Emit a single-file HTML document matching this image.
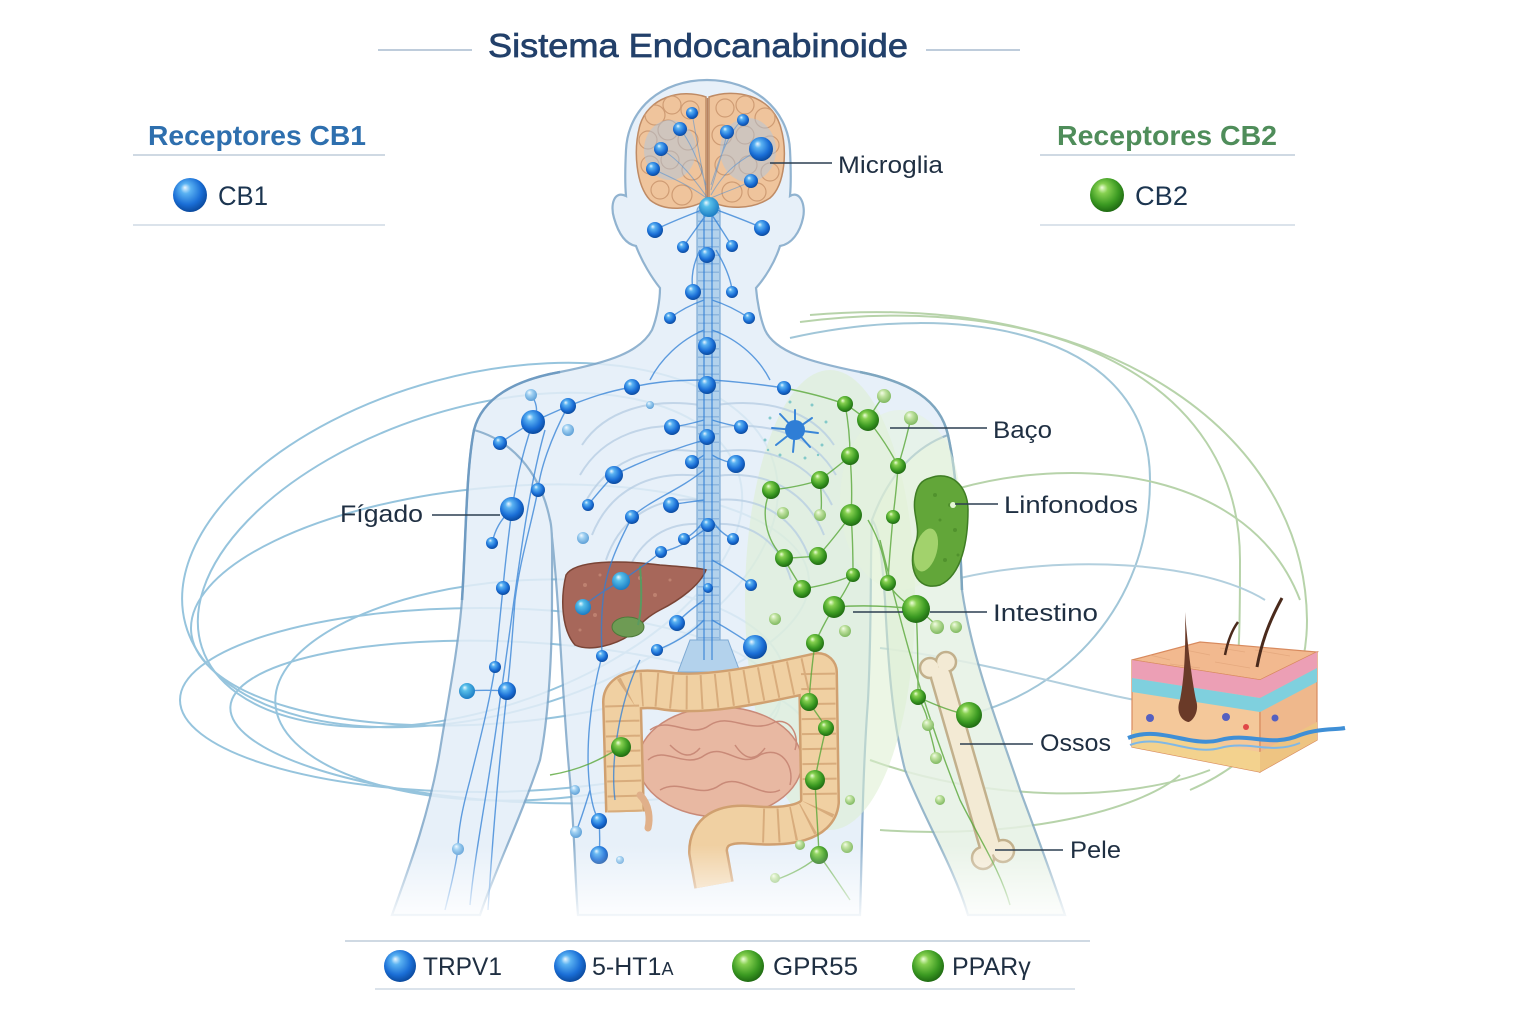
<!DOCTYPE html>
<html><head><meta charset="utf-8"><style>
html,body{margin:0;padding:0;background:#fff;}
svg{display:block;}
text{font-family:"Liberation Sans",sans-serif;}
</style></head><body>
<svg width="1536" height="1024" viewBox="0 0 1536 1024" xmlns="http://www.w3.org/2000/svg">
<defs>
<radialGradient id="gb" cx="0.45" cy="0.4" r="0.6" fx="0.35" fy="0.28">
<stop offset="0" stop-color="#eaf7ff"/><stop offset="0.25" stop-color="#5ab2f2"/><stop offset="0.7" stop-color="#1a6ed6"/><stop offset="1" stop-color="#0b4a9e"/></radialGradient>
<radialGradient id="gbl" cx="0.45" cy="0.4" r="0.6" fx="0.35" fy="0.28">
<stop offset="0" stop-color="#f2faff"/><stop offset="0.4" stop-color="#9fd0f2"/><stop offset="1" stop-color="#5d9fd6"/></radialGradient>
<radialGradient id="gc" cx="0.45" cy="0.4" r="0.6" fx="0.35" fy="0.28">
<stop offset="0" stop-color="#eaf9ff"/><stop offset="0.3" stop-color="#58c0ea"/><stop offset="1" stop-color="#1a7cc4"/></radialGradient>
<radialGradient id="gg" cx="0.45" cy="0.4" r="0.6" fx="0.35" fy="0.28">
<stop offset="0" stop-color="#eefed8"/><stop offset="0.25" stop-color="#86d050"/><stop offset="0.7" stop-color="#3b9a22"/><stop offset="1" stop-color="#1f6a12"/></radialGradient>
<radialGradient id="ggl" cx="0.45" cy="0.4" r="0.6" fx="0.35" fy="0.28">
<stop offset="0" stop-color="#f4fce8"/><stop offset="0.4" stop-color="#bfe29f"/><stop offset="1" stop-color="#7fb860"/></radialGradient>
<linearGradient id="fade" x1="0" y1="0" x2="0" y2="1">
<stop offset="0" stop-color="#fff" stop-opacity="0"/><stop offset="1" stop-color="#fff" stop-opacity="1"/></linearGradient>
<clipPath id="brainclip">
<path d="M706,97 C680,88 648,98 640,125 C633,150 636,185 650,200 C665,212 690,210 706,200 Z M709,97 C735,88 770,95 780,125 C788,150 785,185 770,198 C752,210 725,210 709,200 Z"/>
</clipPath>
</defs>

<rect width="1536" height="1024" fill="#fff"/>

<!-- orbit curves left -->
<g fill="none" stroke="#7db6d5" stroke-width="2" opacity="0.8">
<ellipse cx="480" cy="545" rx="305" ry="170" transform="rotate(-15 480 545)"/>
<ellipse cx="470" cy="560" rx="282" ry="150" transform="rotate(-18 470 560)"/>
<ellipse cx="500" cy="605" rx="310" ry="118" transform="rotate(-5 500 605)"/>
<ellipse cx="480" cy="700" rx="300" ry="92"/>
<ellipse cx="520" cy="722" rx="290" ry="80" transform="rotate(3 520 722)"/>
<ellipse cx="530" cy="690" rx="255" ry="110" transform="rotate(-3 530 690)"/>
</g>
<!-- orbit curves right -->
<g fill="none" stroke-width="2" opacity="0.8">
<path d="M790,338 C960,300 1150,330 1150,480 C1150,610 1060,690 975,713" stroke="#8ab9cf"/>
<path d="M800,322 C1050,290 1240,380 1240,560 C1240,620 1240,680 1230,700" stroke="#a6c996"/>
<path d="M810,315 C1100,290 1305,430 1307,620 C1307,700 1260,760 1190,790" stroke="#a6c996"/>
<path d="M960,488 C1080,455 1250,470 1300,600" stroke="#a6c996"/>
<path d="M960,578 C1060,555 1200,560 1265,600" stroke="#9fc4d6"/>
<path d="M870,760 C980,800 1120,805 1210,770" stroke="#a6c996"/>
<path d="M880,830 C1020,840 1140,810 1180,775" stroke="#a6c996"/>
<path d="M880,648 C980,660 1080,690 1135,700" stroke="#9fc4d6"/>
</g>

<!-- body -->
<g opacity="0.85">
<path d="M707,80 C662,80 628,108 626,150 C625,170 625,185 626,196 C614,190 610,205 614,218 C618,232 625,244 636,246 C642,262 652,278 660,288 C660,300 657,318 652,330 C640,352 610,362 560,372 C515,380 482,398 474,430 L550,520 C560,600 562,700 570,780 C575,840 575,880 578,915 L860,915 C862,860 862,780 868,700 C872,620 870,560 872,520 L948,435 C940,400 910,382 860,372 C810,362 775,352 765,330 C760,318 757,300 756,288 C765,278 775,262 780,246 C792,244 800,232 803,218 C806,205 800,190 790,196 C791,185 791,170 790,150 C788,108 752,80 707,80 Z" fill="#e3eef8" stroke="#7ea6c8" stroke-width="2.2"/>
<path d="M474,430 C466,470 466,540 462,600 C458,650 448,700 440,750 C430,810 412,860 392,915 L480,915 C495,870 520,820 540,760 C548,720 552,660 552,600 C552,560 553,530 550,520 C540,470 510,440 474,430 Z" fill="#e3eef8" stroke="#7ea6c8" stroke-width="2.2"/>
<path d="M948,435 C958,480 960,540 962,590 C972,660 1000,730 1020,790 C1035,830 1050,870 1065,915 L968,915 C955,870 925,820 905,770 C892,720 888,660 885,600 C882,560 880,530 872,520 C890,470 920,445 948,435 Z" fill="#e6f1e4" stroke="#86abc2" stroke-width="2.2"/>
</g>
<path d="M560,372 C515,380 482,398 474,430 C466,470 466,540 462,600" fill="none" stroke="#6f9bc2" stroke-width="2.5"/>
<path d="M860,372 C910,382 940,400 948,435 C958,480 960,540 962,590" fill="none" stroke="#7ea6bf" stroke-width="2.5"/>
<ellipse cx="830" cy="600" rx="85" ry="230" fill="#dcefd0" opacity="0.55"/>
<ellipse cx="900" cy="500" rx="60" ry="90" fill="#e6f3dc" opacity="0.5"/>

<!-- ribs -->
<g fill="none" stroke="#b6cde3" stroke-width="2" opacity="0.75">
<path d="M700,405 C650,398 605,410 582,445"/><path d="M700,428 C648,420 603,435 580,475"/>
<path d="M700,452 C648,444 605,462 584,505"/><path d="M700,476 C650,470 610,490 592,535"/>
<path d="M700,500 C655,496 620,518 606,560"/><path d="M700,524 C662,522 635,545 625,580"/>
<path d="M716,405 C766,398 811,410 834,445"/><path d="M716,428 C768,420 813,435 836,475"/>
<path d="M716,452 C768,444 811,462 832,505"/><path d="M716,476 C766,470 806,490 824,535"/>
<path d="M716,500 C761,496 796,518 810,560"/><path d="M716,524 C754,522 781,545 791,580"/>
</g>

<!-- spine -->
<rect x="697" y="205" width="23" height="450" rx="6" fill="#b3d2ec" stroke="#7eaad4" stroke-width="1.2"/>
<line x1="708.5" y1="212" x2="708.5" y2="650" stroke="#8db6de" stroke-width="21" stroke-dasharray="1.5 7"/>
<path d="M690,640 L728,640 L740,672 L678,672 Z" fill="#b3d2ec" stroke="#7eaad4"/>

<!-- brain -->
<path d="M706,97 C680,88 648,98 640,125 C633,150 636,185 650,200 C665,212 690,210 706,200 Z M709,97 C735,88 770,95 780,125 C788,150 785,185 770,198 C752,210 725,210 709,200 Z" fill="#efc49c" stroke="#bf8b65" stroke-width="1.5"/>
<g clip-path="url(#brainclip)" fill="none" stroke="#cf9c74" stroke-width="1.2">
<circle cx="655" cy="115" r="10"/><circle cx="672" cy="105" r="9"/><circle cx="690" cy="110" r="9"/><circle cx="648" cy="140" r="9"/>
<circle cx="668" cy="130" r="10"/><circle cx="688" cy="140" r="10"/><circle cx="650" cy="165" r="9"/><circle cx="670" cy="160" r="9"/>
<circle cx="692" cy="170" r="10"/><circle cx="660" cy="190" r="9"/><circle cx="682" cy="195" r="10"/>
<circle cx="725" cy="108" r="9"/><circle cx="745" cy="105" r="9"/><circle cx="765" cy="118" r="10"/><circle cx="722" cy="135" r="10"/>
<circle cx="745" cy="135" r="9"/><circle cx="770" cy="145" r="9"/><circle cx="725" cy="165" r="10"/><circle cx="748" cy="165" r="9"/>
<circle cx="770" cy="172" r="9"/><circle cx="732" cy="192" r="10"/><circle cx="757" cy="192" r="9"/>
</g>
<g clip-path="url(#brainclip)" fill="#a8c8e6" opacity="0.45">
<ellipse cx="670" cy="150" rx="26" ry="30"/><ellipse cx="748" cy="150" rx="28" ry="32"/>
</g>
<path d="M707.5,98 L707.5,200" stroke="#b88260" stroke-width="1.5"/>

<!-- liver -->
<path d="M566,575 C575,560 620,560 660,565 C685,567 700,568 706,570 C700,585 680,600 660,610 C645,618 640,625 630,635 C615,645 590,652 575,645 C562,630 560,600 566,575 Z" fill="#a7675a" stroke="#7a4436" stroke-width="1.5"/>
<g fill="#c48876" opacity="0.8"><circle cx="585" cy="585" r="2"/><circle cx="600" cy="575" r="1.5"/><circle cx="640" cy="578" r="2"/><circle cx="670" cy="580" r="1.5"/><circle cx="595" cy="615" r="2"/><circle cx="580" cy="630" r="1.5"/><circle cx="655" cy="595" r="2"/></g>
<ellipse cx="628" cy="627" rx="16" ry="10" fill="#6e9b54" stroke="#4d7a3a"/>
<path d="M640,566 C642,590 642,610 638,625" stroke="#5a9a60" stroke-width="2" fill="none"/>

<!-- intestines -->
<ellipse cx="720" cy="762" rx="82" ry="55" fill="#e8b8a2" stroke="#c98a78" stroke-width="1.5"/>
<g fill="none" stroke="#c98a78" stroke-width="1.5">
<path d="M650,730 C670,715 690,740 710,725 C730,712 750,735 775,722 C790,718 800,735 795,750"/>
<path d="M648,760 C665,745 685,770 705,755 C725,742 740,770 760,755 C780,745 795,765 790,785"/>
<path d="M660,790 C680,778 700,800 720,785 C740,772 760,800 780,790"/>
<path d="M670,745 C680,755 690,760 700,748"/><path d="M735,745 C745,760 755,762 765,748"/>
</g>
<path d="M625,812 L622,702 C622,690 640,688 660,690 C700,698 760,685 818,672 L820,802 C818,822 790,828 752,825 C722,822 708,832 708,852 L714,885" fill="none" stroke="#d0a070" stroke-width="40" stroke-linejoin="round"/>
<path d="M625,812 L622,702 C622,690 640,688 660,690 C700,698 760,685 818,672 L820,802 C818,822 790,828 752,825 C722,822 708,832 708,852 L714,885" fill="none" stroke="#f0d0a2" stroke-width="35" stroke-linejoin="round"/>
<path d="M625,812 L622,702 C622,690 640,688 660,690 C700,698 760,685 818,672 L820,802 C818,822 790,828 752,825" fill="none" stroke="#d8ac7c" stroke-width="34" stroke-dasharray="2 13"/>
<path d="M640,795 C650,805 650,820 648,828" stroke="#e0b08a" stroke-width="7" fill="none" stroke-linecap="round"/>

<!-- lymph node -->
<path d="M930,478 C950,470 968,485 968,510 C968,540 962,575 940,585 C915,592 908,565 915,545 C922,528 912,515 915,498 C917,485 922,480 930,478 Z" fill="#62a639" stroke="#3f7d24" stroke-width="1.5"/>
<g fill="#4a8a28" opacity="0.7"><circle cx="935" cy="495" r="2"/><circle cx="950" cy="505" r="2"/><circle cx="955" cy="530" r="2"/><circle cx="945" cy="560" r="2"/><circle cx="958" cy="555" r="1.5"/><circle cx="940" cy="520" r="1.5"/></g>
<ellipse cx="926" cy="550" rx="11" ry="22" transform="rotate(15 926 550)" fill="#a2d26c"/>
<circle cx="953" cy="505" r="3" fill="#e6f6d6"/>

<!-- bone -->
<g stroke="#c2b08c" stroke-width="2.5">
<line x1="941" y1="676" x2="990" y2="846" stroke-width="23" stroke-linecap="round"/>
<circle cx="930" cy="668" r="10" fill="#f3ead4"/><circle cx="946" cy="662" r="10" fill="#f3ead4"/>
<circle cx="983" cy="858" r="11" fill="#f3ead4"/><circle cx="1003" cy="851" r="11" fill="#f3ead4"/>
</g>
<line x1="941" y1="676" x2="990" y2="846" stroke="#f3ead4" stroke-width="18" stroke-linecap="round"/>
<circle cx="930" cy="668" r="8.5" fill="#f3ead4"/><circle cx="946" cy="662" r="8.5" fill="#f3ead4"/>
<circle cx="983" cy="858" r="9.5" fill="#f3ead4"/><circle cx="1003" cy="851" r="9.5" fill="#f3ead4"/>

<!-- blue nerves -->
<g fill="none" stroke="#2f7fd6" stroke-width="1.4" opacity="0.75">
<path d="M704,210 L704,660 M712,210 L712,660"/>
<path d="M709,207 C690,215 670,222 655,230 M709,207 C730,215 750,222 762,228 M706,215 C695,230 688,240 683,247 M712,215 C722,230 728,240 732,246 M700,250 C690,270 692,285 693,292 M716,250 C728,270 732,285 732,292 M704,300 C690,305 678,312 670,318 M712,300 C728,305 740,312 749,318"/>
<path d="M704,380 C670,380 650,383 632,387 C600,393 585,400 568,406 C555,412 545,416 533,422 C520,430 510,436 500,443 M712,380 C740,382 765,385 784,388"/>
<path d="M533,422 C520,460 515,490 512,509 C508,540 505,565 503,588 C500,620 497,645 495,667 C490,700 480,740 470,780 C462,810 458,830 458,849 C455,870 450,890 445,910"/>
<path d="M568,406 C550,440 540,470 538,490 C530,530 520,560 515,600 C512,640 510,670 507,691 C502,740 495,800 488,910"/>
<path d="M512,509 C500,520 495,530 492,543 M507,691 C490,690 480,690 467,691 M533,422 C540,410 535,400 531,395 M545,430 C525,500 515,600 500,700 C490,780 475,850 470,905"/>
<path d="M704,440 C670,450 640,462 614,475 M704,470 C680,490 650,500 632,517 M704,500 C690,502 680,503 671,505 M704,420 C690,424 680,426 672,427 M712,420 C725,424 735,426 741,427 M712,455 C720,460 728,462 736,464 M704,455 C700,458 696,460 692,462 M704,530 C690,540 680,548 661,552 M704,520 C698,530 690,536 684,539 M712,520 C718,530 726,536 733,539 M712,560 C730,570 742,578 751,585 M704,600 C690,610 682,617 677,623 M704,620 C690,635 670,645 657,650 M712,620 C730,630 745,640 755,647 M614,475 C600,490 594,498 588,505 M632,517 C620,540 605,570 603,600 C600,630 602,645 602,656"/>
<path d="M602,656 C590,700 585,750 590,790 C593,810 596,815 599,821 C600,835 600,845 599,855 M590,790 C584,810 580,822 576,832 M640,660 C620,700 610,760 615,800 M661,552 C645,565 630,575 621,581 M621,581 C605,590 590,600 583,607 M712,330 C740,340 760,360 770,380 M704,330 C680,340 660,360 650,380"/>
</g>
<g fill="none" stroke="#3f8ad8" stroke-width="1" opacity="0.5">
<path d="M709,200 C695,180 680,160 661,149 M709,200 C690,185 665,175 653,169 M706,190 C700,160 695,130 692,113 M711,195 C725,170 740,160 761,149 M711,190 C720,160 725,145 727,132 M711,198 C730,190 745,185 751,181 M706,185 C695,150 685,135 680,129 M711,185 C725,140 735,125 743,120"/>
</g>

<!-- green nerves -->
<g fill="none" stroke="#5aa83a" stroke-width="1.4" opacity="0.8">
<path d="M784,388 C805,392 828,398 845,404 C855,410 860,415 868,420 C880,435 890,450 898,466 C897,485 895,500 893,517 C891,540 889,560 888,583 C895,595 905,603 916,609 C918,640 918,670 918,697 C935,705 952,712 969,715"/>
<path d="M845,404 C848,420 850,440 850,456 C840,465 830,472 820,480 C805,485 790,488 771,490 M850,456 C852,480 852,500 851,515 C840,530 828,545 818,556 C805,557 795,558 784,558 M851,515 C853,540 853,560 853,575 C838,582 820,586 802,589 M820,480 C822,500 822,510 820,515"/>
<path d="M853,575 C846,590 840,600 834,607 C826,620 820,632 815,643 C812,665 810,685 809,702 C815,712 822,720 826,728 C822,745 818,762 815,780 C816,805 818,830 819,855 C810,865 790,875 775,880 M834,607 C860,605 890,606 916,609"/>
<path d="M888,583 C885,560 880,540 868,520 M898,466 C905,445 908,430 911,418 M868,420 C875,408 880,400 884,396 M916,609 C925,615 932,620 937,627 M918,697 C925,710 928,718 928,725 C932,740 935,750 936,758 M771,490 C760,510 765,540 784,558 C790,570 797,580 802,589 M621,747 C600,760 580,770 550,775 M880,540 C900,620 920,700 960,800 C980,840 1000,870 1010,905 M819,855 C830,870 840,885 850,900"/>
</g>

<!-- microglia -->
<g stroke="#3a86d8" stroke-width="2" stroke-linecap="round">
<line x1="795" y1="430" x2="795" y2="410"/><line x1="795" y1="430" x2="812" y2="418"/><line x1="795" y1="430" x2="818" y2="433"/>
<line x1="795" y1="430" x2="810" y2="447"/><line x1="795" y1="430" x2="793" y2="452"/><line x1="795" y1="430" x2="776" y2="445"/>
<line x1="795" y1="430" x2="772" y2="428"/><line x1="795" y1="430" x2="780" y2="414"/>
</g>
<circle cx="795" cy="430" r="10" fill="#2f7ed6"/>
<g fill="#6cc0c4" opacity="0.8"><circle cx="770" cy="418" r="1.5"/><circle cx="765" cy="440" r="1.5"/><circle cx="780" cy="455" r="1.5"/><circle cx="805" cy="458" r="1.5"/><circle cx="822" cy="445" r="1.5"/><circle cx="826" cy="422" r="1.5"/><circle cx="812" cy="405" r="1.5"/><circle cx="790" cy="402" r="1.5"/><circle cx="768" cy="450" r="1.2"/><circle cx="818" cy="455" r="1.2"/></g>

<!-- blue dots -->
<g fill="url(#gb)">
<circle cx="692" cy="113" r="6"/><circle cx="680" cy="129" r="7"/><circle cx="661" cy="149" r="7"/><circle cx="653" cy="169" r="7"/>
<circle cx="727" cy="132" r="7"/><circle cx="743" cy="120" r="6"/><circle cx="761" cy="149" r="12"/><circle cx="751" cy="181" r="7"/>
<circle cx="655" cy="230" r="8"/><circle cx="762" cy="228" r="8"/><circle cx="683" cy="247" r="6"/><circle cx="732" cy="246" r="6"/>
<circle cx="707" cy="255" r="8"/><circle cx="693" cy="292" r="8"/><circle cx="732" cy="292" r="6"/><circle cx="670" cy="318" r="6"/>
<circle cx="749" cy="318" r="6"/><circle cx="707" cy="346" r="9"/><circle cx="707" cy="385" r="9"/><circle cx="632" cy="387" r="8"/>
<circle cx="784" cy="388" r="7"/><circle cx="568" cy="406" r="8"/><circle cx="533" cy="422" r="12"/><circle cx="500" cy="443" r="7"/>
<circle cx="672" cy="427" r="8"/><circle cx="741" cy="427" r="7"/><circle cx="707" cy="437" r="8"/><circle cx="692" cy="462" r="7"/>
<circle cx="736" cy="464" r="9"/><circle cx="614" cy="475" r="9"/><circle cx="538" cy="490" r="7"/><circle cx="512" cy="509" r="12"/>
<circle cx="588" cy="505" r="6"/><circle cx="632" cy="517" r="7"/><circle cx="671" cy="505" r="8"/><circle cx="708" cy="525" r="7"/>
<circle cx="492" cy="543" r="6"/><circle cx="661" cy="552" r="6"/><circle cx="684" cy="539" r="6"/><circle cx="733" cy="539" r="6"/>
<circle cx="708" cy="588" r="5"/><circle cx="751" cy="585" r="6"/><circle cx="503" cy="588" r="7"/><circle cx="677" cy="623" r="8"/>
<circle cx="755" cy="647" r="12"/><circle cx="657" cy="650" r="6"/><circle cx="602" cy="656" r="6"/><circle cx="495" cy="667" r="6"/>
<circle cx="507" cy="691" r="9"/><circle cx="599" cy="821" r="8"/><circle cx="599" cy="855" r="9"/>
</g>
<g fill="url(#gc)">
<circle cx="709" cy="207" r="10"/><circle cx="621" cy="581" r="9"/><circle cx="583" cy="607" r="8"/><circle cx="467" cy="691" r="8"/>
</g>
<g fill="url(#gbl)">
<circle cx="531" cy="395" r="6"/><circle cx="568" cy="430" r="6"/><circle cx="583" cy="538" r="6"/><circle cx="576" cy="832" r="6"/>
<circle cx="458" cy="849" r="6"/><circle cx="575" cy="790" r="5"/><circle cx="650" cy="405" r="4"/><circle cx="620" cy="860" r="4"/>
</g>

<!-- green dots -->
<g fill="url(#gg)">
<circle cx="845" cy="404" r="8"/><circle cx="868" cy="420" r="11"/><circle cx="850" cy="456" r="9"/><circle cx="898" cy="466" r="8"/>
<circle cx="771" cy="490" r="9"/><circle cx="820" cy="480" r="9"/><circle cx="851" cy="515" r="11"/><circle cx="893" cy="517" r="7"/>
<circle cx="784" cy="558" r="9"/><circle cx="818" cy="556" r="9"/><circle cx="853" cy="575" r="7"/><circle cx="888" cy="583" r="8"/>
<circle cx="802" cy="589" r="9"/><circle cx="834" cy="607" r="11"/><circle cx="916" cy="609" r="14"/><circle cx="815" cy="643" r="9"/>
<circle cx="918" cy="697" r="8"/><circle cx="969" cy="715" r="13"/><circle cx="809" cy="702" r="9"/><circle cx="826" cy="728" r="8"/>
<circle cx="621" cy="747" r="10"/><circle cx="815" cy="780" r="10"/><circle cx="819" cy="855" r="9"/>
</g>
<g fill="url(#ggl)">
<circle cx="884" cy="396" r="7"/><circle cx="911" cy="418" r="7"/><circle cx="783" cy="513" r="6"/><circle cx="820" cy="515" r="6"/>
<circle cx="775" cy="619" r="6"/><circle cx="845" cy="631" r="6"/><circle cx="937" cy="627" r="7"/><circle cx="956" cy="627" r="6"/>
<circle cx="847" cy="847" r="6"/><circle cx="928" cy="725" r="6"/><circle cx="936" cy="758" r="6"/><circle cx="775" cy="878" r="5"/>
<circle cx="800" cy="845" r="5"/><circle cx="850" cy="800" r="5"/><circle cx="940" cy="800" r="5"/>
</g>

<!-- skin block -->
<g>
<polygon points="1132,660 1200,642 1317,652 1260,680" fill="#f2b98f" stroke="#d88a5e" stroke-width="1.2"/>
<polygon points="1132,660 1260,680 1260,772 1132,747" fill="#f4c89a" stroke="#d88a5e" stroke-width="1.2"/>
<polygon points="1260,680 1317,652 1317,740 1260,772" fill="#efb88c" stroke="#d88a5e" stroke-width="1.2"/>
<polygon points="1132,660 1260,680 1260,698 1132,678" fill="#ec9fb5"/>
<polygon points="1260,680 1317,652 1317,668 1260,698" fill="#ec9fb5"/>
<polygon points="1132,678 1260,698 1260,712 1132,692" fill="#7fd0de"/>
<polygon points="1260,698 1317,668 1317,682 1260,712" fill="#7fd0de"/>
<polygon points="1132,730 1260,752 1260,772 1132,747" fill="#f3d28e"/>
<polygon points="1260,752 1317,722 1317,740 1260,772" fill="#eec482"/>
<g fill="none" stroke="#e0a278" stroke-width="0.8" opacity="0.7">
<path d="M1150,655 L1170,660 M1185,650 L1210,655 M1220,648 L1245,652 M1255,650 L1290,656 M1170,664 L1200,668 M1215,662 L1250,668"/>
</g>
<path d="M1128,738 C1160,725 1190,748 1220,740 C1250,732 1270,748 1300,735 C1320,728 1335,730 1345,728" fill="none" stroke="#3f8fd6" stroke-width="4"/>
<path d="M1130,745 C1160,733 1190,756 1220,748 C1250,740 1270,755 1300,743" fill="none" stroke="#7fb8e6" stroke-width="2"/>
<path d="M1185,612 C1188,650 1192,680 1196,700 C1200,712 1192,722 1188,722 C1180,720 1176,710 1180,700 C1184,680 1186,650 1185,612 Z" fill="#6a3a28"/>
<path d="M1225,655 C1228,640 1232,630 1238,622" stroke="#4a2a1c" stroke-width="2.5" fill="none"/>
<path d="M1257,667 C1262,640 1270,620 1282,598" stroke="#4a2a1c" stroke-width="3" fill="none"/>
<circle cx="1150" cy="718" r="4" fill="#5560c0"/><circle cx="1226" cy="717" r="4" fill="#5560c0"/><circle cx="1246" cy="727" r="3" fill="#e04848"/><circle cx="1275" cy="718" r="3.5" fill="#5560c0"/>
</g>

<!-- bottom fade -->
<rect x="0" y="845" width="1536" height="80" fill="url(#fade)"/>
<rect x="0" y="925" width="1536" height="99" fill="#fff"/>

<!-- connectors -->
<g stroke="#2c3e50" stroke-width="1.6">
<line x1="770" y1="163" x2="832" y2="163"/>
<line x1="890" y1="428" x2="987" y2="428"/>
<line x1="955" y1="504" x2="998" y2="504"/>
<line x1="853" y1="612" x2="903" y2="612"/><line x1="930" y1="612" x2="987" y2="612"/>
<line x1="960" y1="744" x2="1033" y2="744"/>
<line x1="995" y1="850" x2="1063" y2="850"/>
<line x1="432" y1="515" x2="500" y2="515"/>
</g>

<!-- title -->
<line x1="378" y1="50" x2="472" y2="50" stroke="#a9bccf" stroke-width="1.5"/>
<line x1="926" y1="50" x2="1020" y2="50" stroke="#a9bccf" stroke-width="1.5"/>
<text x="488" y="57" font-size="33" fill="#22406a" stroke="#22406a" stroke-width="0.7" textLength="420" lengthAdjust="spacingAndGlyphs">Sistema Endocanabinoide</text>

<!-- legends -->
<text x="148" y="145" font-size="28" font-weight="bold" fill="#2e6fae" textLength="218" lengthAdjust="spacingAndGlyphs">Receptores CB1</text>
<line x1="133" y1="155" x2="385" y2="155" stroke="#cfd9e3" stroke-width="2"/>
<circle cx="190" cy="195" r="17" fill="url(#gb)"/>
<text x="218" y="205" font-size="27" fill="#1c3550" textLength="50" lengthAdjust="spacingAndGlyphs">CB1</text>
<line x1="133" y1="225" x2="385" y2="225" stroke="#dbe3eb" stroke-width="2"/>

<text x="1057" y="145" font-size="28" font-weight="bold" fill="#4f8d5a" textLength="220" lengthAdjust="spacingAndGlyphs">Receptores CB2</text>
<line x1="1040" y1="155" x2="1295" y2="155" stroke="#cfd9e3" stroke-width="2"/>
<circle cx="1107" cy="195" r="17" fill="url(#gg)"/>
<text x="1135" y="205" font-size="27" fill="#1c3550" textLength="53" lengthAdjust="spacingAndGlyphs">CB2</text>
<line x1="1040" y1="225" x2="1295" y2="225" stroke="#dbe3eb" stroke-width="2"/>

<!-- labels -->
<g font-size="24" fill="#1f2f42">
<text x="838" y="173" textLength="105" lengthAdjust="spacingAndGlyphs">Microglia</text>
<text x="993" y="438" textLength="59" lengthAdjust="spacingAndGlyphs">Baço</text>
<text x="1004" y="513" textLength="134" lengthAdjust="spacingAndGlyphs">Linfonodos</text>
<text x="993" y="621" textLength="105" lengthAdjust="spacingAndGlyphs">Intestino</text>
<text x="1040" y="751" textLength="71" lengthAdjust="spacingAndGlyphs">Ossos</text>
<text x="1070" y="858" textLength="51" lengthAdjust="spacingAndGlyphs">Pele</text>
<text x="340" y="522" textLength="83" lengthAdjust="spacingAndGlyphs">Fígado</text>
</g>

<!-- bottom legend -->
<line x1="345" y1="941" x2="1090" y2="941" stroke="#cfd9e3" stroke-width="2"/>
<line x1="375" y1="989" x2="1075" y2="989" stroke="#dbe3eb" stroke-width="2"/>
<circle cx="400" cy="966" r="16" fill="url(#gb)"/>
<circle cx="570" cy="966" r="16" fill="url(#gb)"/>
<circle cx="748" cy="966" r="16" fill="url(#gg)"/>
<circle cx="928" cy="966" r="16" fill="url(#gg)"/>
<g font-size="25" fill="#1f2f42">
<text x="423" y="975" textLength="79" lengthAdjust="spacingAndGlyphs">TRPV1</text>
<text x="592" y="975">5-HT1<tspan font-size="18">A</tspan></text>
<text x="773" y="975" textLength="85" lengthAdjust="spacingAndGlyphs">GPR55</text>
<text x="952" y="975">PPARγ</text>
</g>
</svg>
</body></html>
